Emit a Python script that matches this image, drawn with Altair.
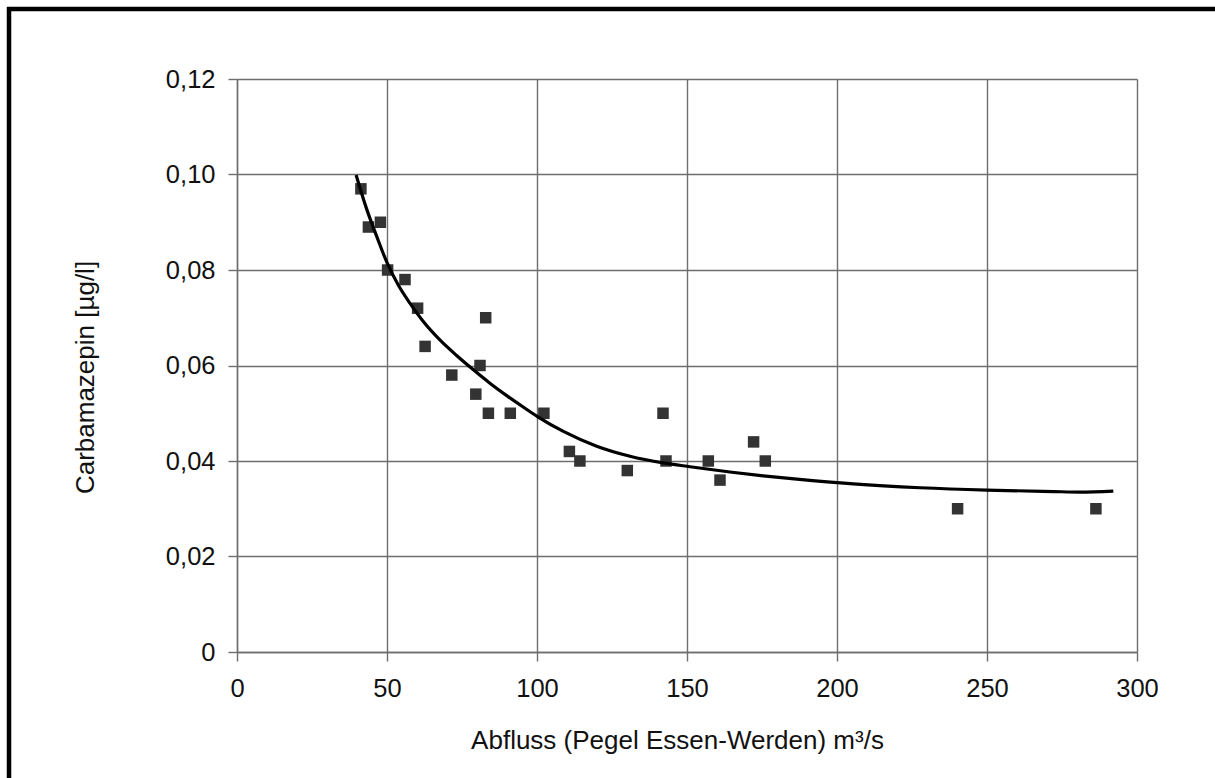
import altair as alt
import pandas as pd

# Measured samples (Abfluss m3/s, Carbamazepin µg/l)
flow = [41.3, 43.8, 47.8, 50.2, 56.0, 60.2, 62.7, 71.6, 79.6, 81.0, 82.9, 83.8,
        91.1, 102.3, 110.8, 114.3, 130.1, 142.0, 143.0, 157.1, 161.0, 172.2,
        176.1, 240.2, 286.3]
conc = [0.097, 0.089, 0.090, 0.080, 0.078, 0.072, 0.064, 0.058, 0.054, 0.060,
        0.070, 0.050, 0.050, 0.050, 0.042, 0.040, 0.038, 0.050, 0.040, 0.040,
        0.036, 0.044, 0.040, 0.030, 0.030]

# Trend curve
trend_x = [39.7, 43.2, 46.6, 49.9, 53.8, 57.7, 62.1, 67.7, 73.2, 78.8, 84.3,
           89.9, 95.4, 100.4, 108.8, 119.9, 131.0, 142.1, 151.0, 164.3, 175.4,
           186.6, 205.4, 227.7, 249.9, 272.1, 281.0, 292.1]
trend_y = [0.0999, 0.0928, 0.0870, 0.0817, 0.0768, 0.0730, 0.0692, 0.0653,
           0.0621, 0.0591, 0.0563, 0.0537, 0.0513, 0.0492, 0.0462, 0.0431,
           0.0410, 0.0396, 0.0388, 0.0377, 0.0369, 0.0362, 0.0352, 0.0344,
           0.0339, 0.0336, 0.0335, 0.0337]

x_ticks = [0, 50, 100, 150, 200, 250, 300]
y_ticks = [0, 0.02, 0.04, 0.06, 0.08, 0.10, 0.12]

pts = pd.DataFrame({"q": flow, "c": conc})
trend = pd.DataFrame({"q": trend_x, "c": trend_y})

FONT = "Liberation Sans"
GRID = "#6e6e6e"
GW = 1.4

x_enc = alt.X(
    "q:Q",
    scale=alt.Scale(domain=[0, 300], nice=False, zero=False),
    axis=alt.Axis(
        values=x_ticks, title="Abfluss (Pegel Essen-Werden) m³/s",
        grid=True, gridColor=GRID, gridWidth=GW,
        domainColor=GRID, domainWidth=GW,
        tickColor=GRID, tickWidth=GW, tickSize=9,
        labelFont=FONT, labelFontSize=25.5, labelColor="#111",
        labelBaseline="alphabetic", labelPadding=35, labelFlush=False,
        titleFont=FONT, titleFontSize=26, titleFontWeight="normal",
        titleColor="#111", titleBaseline="alphabetic", titleAlign="center",
        titleX=440, titleY=96,
    ),
)
y_enc = alt.Y(
    "c:Q",
    scale=alt.Scale(domain=[0, 0.12], nice=False, zero=False),
    axis=alt.Axis(
        values=y_ticks, title="Carbamazepin [µg/l]",
        labelExpr="datum.value == 0 ? '0' : replace(format(datum.value, '.2f'), '.', ',')",
        grid=True, gridColor=GRID, gridWidth=GW,
        domainColor=GRID, domainWidth=GW,
        tickColor=GRID, tickWidth=GW, tickSize=9,
        labelFont=FONT, labelFontSize=25.5, labelColor="#111",
        labelBaseline="middle", labelPadding=13, labelFlush=False,
        titleFont=FONT, titleFontSize=26, titleFontWeight="normal",
        titleColor="#111", titleBaseline="alphabetic", titleAlign="center",
        titleAngle=270, titleX=-144, titleY=298,
    ),
)

points = alt.Chart(pts).mark_point(
    shape="square", filled=True, color="#333333", size=132, opacity=1
).encode(x=x_enc, y=y_enc)

line = alt.Chart(trend).mark_line(
    color="black", strokeWidth=3.2, interpolate="monotone"
).encode(x="q:Q", y="c:Q")

one = alt.Data(values=[{"k": 1}])
frame_left = alt.Chart(one).mark_rule(color="black", strokeWidth=4.5).encode(
    x=alt.value(-228), y=alt.value(-72), y2=alt.value(710)
)
frame_top = alt.Chart(one).mark_rule(color="black", strokeWidth=4.5).encode(
    y=alt.value(-70), x=alt.value(-230), x2=alt.value(990)
)

chart = alt.layer(points, line, frame_left, frame_top).properties(
    width=900, height=573,
    padding={"left": 237, "top": 79, "right": 78, "bottom": 126},
    autosize=alt.AutoSizeParams(type="none"),
    background="white",
).configure_view(stroke=None)

chart.save("out.html", embed_options={"renderer": "svg", "actions": False})
